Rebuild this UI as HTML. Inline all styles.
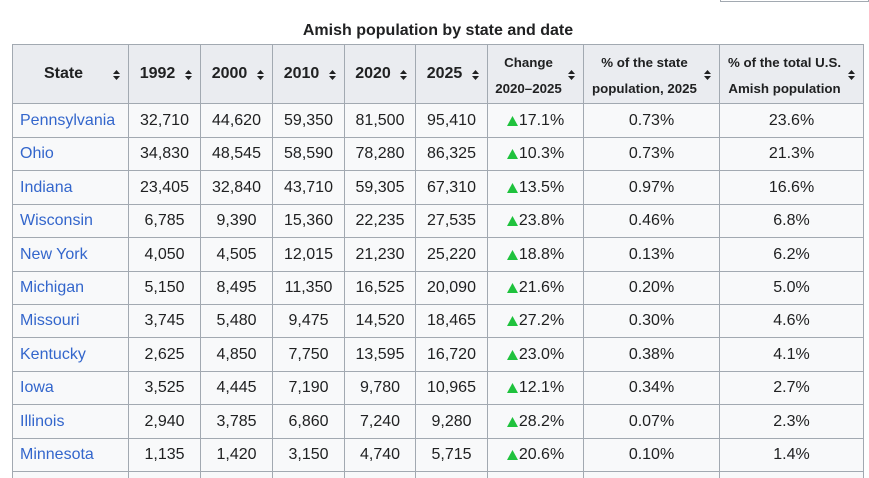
<!DOCTYPE html>
<html><head><meta charset="utf-8">
<style>
html{margin:0;padding:0;width:869px;height:478px;overflow:hidden;background:#fff;}
body{margin:0;padding:0;background:#fff;width:869px;height:478px;position:relative;overflow:hidden;font-family:"Liberation Sans",Arial,sans-serif;color:#202122;font-size:16px;}
.cap{position:absolute;left:12px;width:852px;top:20px;text-align:center;font-weight:bold;font-size:16px;line-height:22px;}
.box{position:absolute;left:720px;top:-10px;width:149px;height:12px;box-sizing:border-box;border:1px solid #a2a9b1;background:#fff;}
.r{position:absolute;left:0;width:869px;}
.r>div{position:absolute;top:0;bottom:0;box-sizing:border-box;border-top:1px solid #a2a9b1;border-left:1px solid #a2a9b1;background:#f8f9fa;display:flex;align-items:center;justify-content:center;white-space:nowrap;}
.r.h>div{background:#eaecf0;font-weight:bold;}
.c1{left:12px;width:116px;}
.c2{left:128px;width:72px;}
.c3{left:200px;width:72px;}
.c4{left:272px;width:72px;}
.c5{left:344px;width:71px;}
.c6{left:415px;width:72px;}
.c7{left:487px;width:96px;}
.c8{left:583px;width:136px;}
.c9{left:719px;width:145px;border-right:1px solid #a2a9b1;}
.r:not(.h) .c1{justify-content:flex-start;padding-left:7px;color:#3366cc;}
.r.h>div{padding-left:7px;padding-right:21px;text-align:center;}
.r.h>div.sm{font-size:13.3px;line-height:25.6px;padding-top:3px;}
.si{position:absolute;right:8px;top:50%;margin-top:-4px;width:7px;height:10px;}
.up{display:inline-block;width:11px;height:10px;margin-right:1px;position:relative;top:0px;}
</style></head><body>
<div class="box"></div>
<div class="cap">Amish population by state and date</div>

<div class="r h" style="top:44px;height:59px;">
<div class="c1">State<svg class="si" viewBox="0 0 7 10"><path d="M0 4L3.5 0L7 4Z M0 6L7 6L3.5 10Z" fill="#202122"/></svg></div>
<div class="c2">1992<svg class="si" viewBox="0 0 7 10"><path d="M0 4L3.5 0L7 4Z M0 6L7 6L3.5 10Z" fill="#202122"/></svg></div>
<div class="c3">2000<svg class="si" viewBox="0 0 7 10"><path d="M0 4L3.5 0L7 4Z M0 6L7 6L3.5 10Z" fill="#202122"/></svg></div>
<div class="c4">2010<svg class="si" viewBox="0 0 7 10"><path d="M0 4L3.5 0L7 4Z M0 6L7 6L3.5 10Z" fill="#202122"/></svg></div>
<div class="c5">2020<svg class="si" viewBox="0 0 7 10"><path d="M0 4L3.5 0L7 4Z M0 6L7 6L3.5 10Z" fill="#202122"/></svg></div>
<div class="c6">2025<svg class="si" viewBox="0 0 7 10"><path d="M0 4L3.5 0L7 4Z M0 6L7 6L3.5 10Z" fill="#202122"/></svg></div>
<div class="c7 sm">Change<br>2020–2025<svg class="si" viewBox="0 0 7 10"><path d="M0 4L3.5 0L7 4Z M0 6L7 6L3.5 10Z" fill="#202122"/></svg></div>
<div class="c8 sm">% of the state<br>population, 2025<svg class="si" viewBox="0 0 7 10"><path d="M0 4L3.5 0L7 4Z M0 6L7 6L3.5 10Z" fill="#202122"/></svg></div>
<div class="c9 sm">% of the total U.S.<br>Amish population<svg class="si" viewBox="0 0 7 10"><path d="M0 4L3.5 0L7 4Z M0 6L7 6L3.5 10Z" fill="#202122"/></svg></div>
</div>

<div class="r" style="top:103px;height:34px;"><div class="c1">Pennsylvania</div><div class="c2">32,710</div><div class="c3">44,620</div><div class="c4">59,350</div><div class="c5">81,500</div><div class="c6">95,410</div><div class="c7"><svg class="up" viewBox="0 0 11 10"><path d="M0 10L5.5 0L11 10Z" fill="#1fc23d"/></svg>17.1%</div><div class="c8">0.73%</div><div class="c9">23.6%</div></div>
<div class="r" style="top:137px;height:33px;"><div class="c1">Ohio</div><div class="c2">34,830</div><div class="c3">48,545</div><div class="c4">58,590</div><div class="c5">78,280</div><div class="c6">86,325</div><div class="c7"><svg class="up" viewBox="0 0 11 10"><path d="M0 10L5.5 0L11 10Z" fill="#1fc23d"/></svg>10.3%</div><div class="c8">0.73%</div><div class="c9">21.3%</div></div>
<div class="r" style="top:170px;height:34px;"><div class="c1">Indiana</div><div class="c2">23,405</div><div class="c3">32,840</div><div class="c4">43,710</div><div class="c5">59,305</div><div class="c6">67,310</div><div class="c7"><svg class="up" viewBox="0 0 11 10"><path d="M0 10L5.5 0L11 10Z" fill="#1fc23d"/></svg>13.5%</div><div class="c8">0.97%</div><div class="c9">16.6%</div></div>
<div class="r" style="top:204px;height:33px;"><div class="c1">Wisconsin</div><div class="c2">6,785</div><div class="c3">9,390</div><div class="c4">15,360</div><div class="c5">22,235</div><div class="c6">27,535</div><div class="c7"><svg class="up" viewBox="0 0 11 10"><path d="M0 10L5.5 0L11 10Z" fill="#1fc23d"/></svg>23.8%</div><div class="c8">0.46%</div><div class="c9">6.8%</div></div>
<div class="r" style="top:237px;height:34px;"><div class="c1">New York</div><div class="c2">4,050</div><div class="c3">4,505</div><div class="c4">12,015</div><div class="c5">21,230</div><div class="c6">25,220</div><div class="c7"><svg class="up" viewBox="0 0 11 10"><path d="M0 10L5.5 0L11 10Z" fill="#1fc23d"/></svg>18.8%</div><div class="c8">0.13%</div><div class="c9">6.2%</div></div>
<div class="r" style="top:271px;height:33px;"><div class="c1">Michigan</div><div class="c2">5,150</div><div class="c3">8,495</div><div class="c4">11,350</div><div class="c5">16,525</div><div class="c6">20,090</div><div class="c7"><svg class="up" viewBox="0 0 11 10"><path d="M0 10L5.5 0L11 10Z" fill="#1fc23d"/></svg>21.6%</div><div class="c8">0.20%</div><div class="c9">5.0%</div></div>
<div class="r" style="top:304px;height:33px;"><div class="c1">Missouri</div><div class="c2">3,745</div><div class="c3">5,480</div><div class="c4">9,475</div><div class="c5">14,520</div><div class="c6">18,465</div><div class="c7"><svg class="up" viewBox="0 0 11 10"><path d="M0 10L5.5 0L11 10Z" fill="#1fc23d"/></svg>27.2%</div><div class="c8">0.30%</div><div class="c9">4.6%</div></div>
<div class="r" style="top:337px;height:34px;"><div class="c1">Kentucky</div><div class="c2">2,625</div><div class="c3">4,850</div><div class="c4">7,750</div><div class="c5">13,595</div><div class="c6">16,720</div><div class="c7"><svg class="up" viewBox="0 0 11 10"><path d="M0 10L5.5 0L11 10Z" fill="#1fc23d"/></svg>23.0%</div><div class="c8">0.38%</div><div class="c9">4.1%</div></div>
<div class="r" style="top:371px;height:33px;"><div class="c1">Iowa</div><div class="c2">3,525</div><div class="c3">4,445</div><div class="c4">7,190</div><div class="c5">9,780</div><div class="c6">10,965</div><div class="c7"><svg class="up" viewBox="0 0 11 10"><path d="M0 10L5.5 0L11 10Z" fill="#1fc23d"/></svg>12.1%</div><div class="c8">0.34%</div><div class="c9">2.7%</div></div>
<div class="r" style="top:404px;height:34px;"><div class="c1">Illinois</div><div class="c2">2,940</div><div class="c3">3,785</div><div class="c4">6,860</div><div class="c5">7,240</div><div class="c6">9,280</div><div class="c7"><svg class="up" viewBox="0 0 11 10"><path d="M0 10L5.5 0L11 10Z" fill="#1fc23d"/></svg>28.2%</div><div class="c8">0.07%</div><div class="c9">2.3%</div></div>
<div class="r" style="top:438px;height:33px;"><div class="c1">Minnesota</div><div class="c2">1,135</div><div class="c3">1,420</div><div class="c4">3,150</div><div class="c5">4,740</div><div class="c6">5,715</div><div class="c7"><svg class="up" viewBox="0 0 11 10"><path d="M0 10L5.5 0L11 10Z" fill="#1fc23d"/></svg>20.6%</div><div class="c8">0.10%</div><div class="c9">1.4%</div></div>
<div class="r" style="top:471px;height:7px;"><div class="c1"></div><div class="c2"></div><div class="c3"></div><div class="c4"></div><div class="c5"></div><div class="c6"></div><div class="c7"></div><div class="c8"></div><div class="c9"></div></div>
</body></html>
